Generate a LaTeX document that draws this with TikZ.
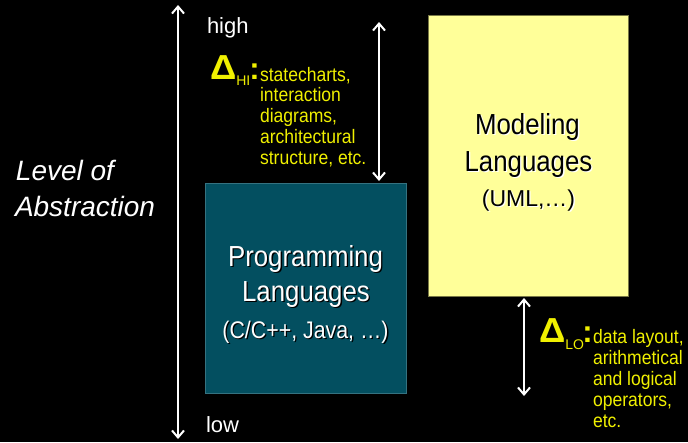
\documentclass[tikz,border=0pt]{standalone}
\usepackage{fontspec}
\usepackage{graphicx}
\setmainfont{Liberation Sans}
\newfontfamily\narrowfont[FakeStretch=0.89]{Liberation Sans}
\newfontfamily\ynarrowfont[FakeStretch=0.9]{Liberation Sans}
\usetikzlibrary{arrows.meta}
\definecolor{progbg}{RGB}{3,79,96}
\definecolor{modbg}{RGB}{255,255,153}
\definecolor{modedge}{RGB}{120,120,70}
\definecolor{ylw}{RGB}{240,240,0}
\newcommand\shadowed[3]{\makebox[0pt][l]{\kern1.3pt\raisebox{-1.3pt}{\color{#1}#3}}{\color{#2}#3}}
\newcommand\bigdelta{{\fontsize{31}{31}\selectfont\bfseries\scalebox{1.18}[1.12]{Δ}}}
\newcommand\bigcolon{{\fontsize{31}{31}\selectfont\bfseries :}}
\tikzset{
  tip/.tip={Straight Barb[length=7pt,width=12pt,line width=2pt]},
  dbl/.style={white, line width=2.2pt, tip-tip},
  txt/.style={inner sep=0pt, outer sep=0pt},
  lbl/.style={txt, white, font=\fontsize{22}{22}\selectfont},
  abs/.style={txt, white, font=\fontsize{28}{28}\selectfont\itshape},
  bigw/.style={txt, font=\narrowfont\fontsize{29}{29}\selectfont},
  ytxt/.style={txt, ylw, font=\ynarrowfont\fontsize{19.5}{19.5}\selectfont},
}
\begin{document}
\begin{tikzpicture}[x=1pt,y=-1pt]
\path[fill=black, use as bounding box] (0,0) rectangle (688,442);
% boxes
\node[fill=progbg, draw=progbg!80!white, line width=0.6pt, minimum width=201pt, minimum height=210pt, inner sep=0] (prog) at (305.5,288.5) {};
\node[fill=modbg, draw=modedge, line width=0.6pt, minimum width=200pt, minimum height=281pt, inner sep=0] (mod) at (528,155.5) {};
% arrows
\coordinate (lt) at (178,5);
\coordinate (lb) at (178,439);
\coordinate (ht) at (379,22);
\coordinate (hb) at (379,181);
\coordinate (ot) at (524,298);
\coordinate (ob) at (524,396);
\draw[dbl] (lt) -- (lb);
\draw[dbl] (ht) -- (hb);
\draw[dbl] (ot) -- (ob);
% side labels
\node[lbl, anchor=base west] (high) at (207,33) {high};
\node[lbl, anchor=base west] (low) at (206,432.5) {low};
\node[abs, anchor=base west] (lev) at (16,180) {Level of};
\node[abs, anchor=base west] (abst) at (15,216) {Abstraction};
% programming text
\node[bigw, anchor=base] (p1) at (305.5,266) {\shadowed{black}{white}{Programming}};
\node[bigw, anchor=base] (p2) at (306,301) {\shadowed{black}{white}{Languages}};
\node[txt, anchor=base, font=\narrowfont\fontsize{24}{24}\selectfont] (p3) at (305.5,338.5) {\shadowed{black}{white}{(C/C++, Java, …)}};
% modeling text
\node[bigw, anchor=base] (m1) at (527.5,134) {\shadowed{white}{black}{Modeling}};
\node[bigw, anchor=base] (m2) at (528.5,171.5) {\shadowed{white}{black}{Languages}};
\node[txt, anchor=base, font=\fontsize{23}{23}\selectfont] (m3) at (528.5,206) {\shadowed{white}{black}{(UML,…)}};
% delta HI
\node[txt, ylw, anchor=base west] (dhi) at (210,79) {\bigdelta{\fontsize{14}{14}\selectfont\raisebox{-6pt}{HI}}\kern-1pt\bigcolon};
\foreach \t [count=\i] in {{statecharts,},{interaction},{diagrams,},{architectural},{structure, etc.}}
  \node[ytxt, anchor=base west] (hi\i) at (260,{81+20.8*(\i-1)}) {\t};
% delta LO
\node[txt, ylw, anchor=base west] (dlo) at (539,342) {\bigdelta{\fontsize{14}{14}\selectfont\raisebox{-7pt}{LO}}\kern-1.5pt\bigcolon};
\foreach \t [count=\i] in {{data layout,},{arithmetical},{and logical},{operators,},{etc.}}
  \node[ytxt, anchor=base west] (lo\i) at (593,{343+21*(\i-1)}) {\t};
\end{tikzpicture}
\end{document}
